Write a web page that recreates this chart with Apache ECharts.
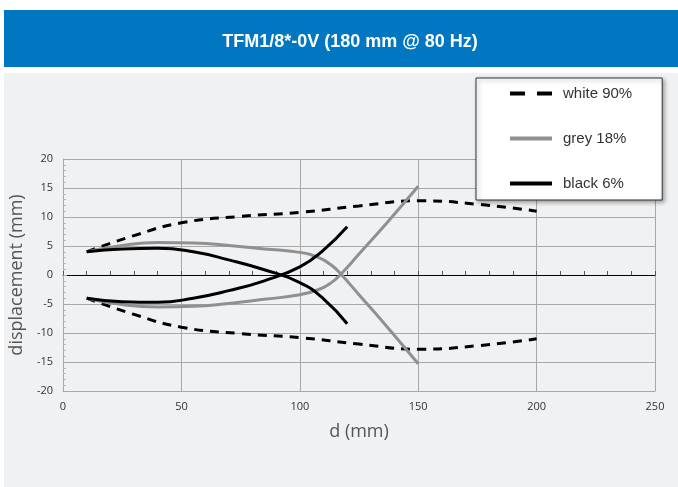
<!DOCTYPE html>
<html>
<head>
<meta charset="utf-8">
<script src="https://cdn.jsdelivr.net/npm/echarts@6/dist/echarts.min.js"></script>
<style>
html,body{margin:0;padding:0;background:#fff;}
#chart{width:678px;height:487px;}
</style>
</head>
<body>
<div id="chart"></div>
<script>
// ---- data ----
const titleText = 'TFM1/8*-0V (180 mm @ 80 Hz)';
const xName = 'd (mm)';
const yName = 'displacement (mm)';
const seriesNames = ['white 90%', 'grey 18%', 'black 6%'];

const whiteX = [10, 30, 50, 75, 100, 125, 150, 175, 200];
const whiteUpper = [4.0, 6.8, 9.0, 10.1, 10.8, 11.9, 12.8, 12.2, 11.0];
const whiteLower = [-4.0, -6.8, -9.0, -10.1, -10.8, -11.9, -12.8, -12.2, -11.0];

const greyX = [10, 25, 40, 55, 70, 85, 100, 108, 113, 117, 125, 137, 150];
const greyUpper = [4.0, 5.1, 5.6, 5.5, 5.1, 4.5, 3.9, 3.0, 1.8, 0.3, -3.4, -9.0, -15.3];
const greyLower = [-4.0, -5.1, -5.5, -5.4, -4.9, -4.2, -3.4, -2.5, -1.4, 0.0, 3.6, 9.1, 15.3];

const blackX = [10, 25, 40, 55, 70, 85, 100, 110, 120];
const blackUpper = [4.0, 4.5, 4.6, 4.0, 2.6, 0.9, -1.3, -4.1, -8.4];
const blackLower = [-4.0, -4.6, -4.7, -4.0, -2.7, -1.0, 1.4, 4.3, 8.3];

const xTicks = [0, 50, 100, 150, 200, 250];
const yTicks = [-20, -15, -10, -5, 0, 5, 10, 15, 20];

function pairs(xs, ys) { return xs.map((x, i) => [x, ys[i]]); }

const chart = echarts.init(document.getElementById('chart'));
const gridCol = '#a8a8a8';

function lineSeries(name, xs, ys, color, type) {
  return {
    name: name, type: 'line', xAxisIndex: 0, yAxisIndex: 0,
    data: pairs(xs, ys), smooth: true, symbol: 'none',
    lineStyle: { color: color, width: 3, type: type },
    itemStyle: { color: color },
    z: 3
  };
}

const option = {
  animation: false,
  backgroundColor: '#ffffff',
  graphic: [
    { type: 'rect', shape: { x: 4, y: 10, width: 674, height: 57 }, style: { fill: '#0077c0' }, z: -10 },
    { type: 'rect', shape: { x: 4, y: 73, width: 674, height: 414 }, style: { fill: '#f0f1f3' }, z: -10 }
  ],
  title: {
    text: titleText, left: 345, top: 28, textAlign: 'center',
    textStyle: { color: '#ffffff', fontSize: 18, fontWeight: 'bold', fontFamily: 'Liberation Sans' }
  },
  legend: {
    data: [
      { name: seriesNames[0], lineStyle: { type: [15, 12], width: 4 } },
      { name: seriesNames[1] },
      { name: seriesNames[2] }
    ],
    orient: 'vertical', left: 476, top: 78,
    backgroundColor: '#ffffff', borderColor: '#333333', borderWidth: 1,
    shadowBlur: 4, shadowColor: 'rgba(0,0,0,0.35)', shadowOffsetX: 2, shadowOffsetY: 2,
    padding: [8, 30, 9, 32],
    itemWidth: 42, itemHeight: 14, itemGap: 30,
    itemStyle: { opacity: 0 },
    lineStyle: { width: 4 },
    textStyle: { fontSize: 15, color: '#333333', fontFamily: 'Liberation Sans', padding: [0, 0, 0, 6] }
  },
  grid: { left: 62, right: 23, top: 159, bottom: 96, containLabel: false },
  xAxis: [
    {
      type: 'value', min: 0, max: 250, interval: 50, position: 'bottom',
      name: xName, nameLocation: 'middle', nameGap: 32,
      nameTextStyle: { fontSize: 18, color: '#555555', fontFamily: 'Open Sans' },
      axisLine: { show: true, onZero: false, lineStyle: { color: gridCol, width: 1 } },
      axisTick: { show: false },
      axisLabel: { fontSize: 11, color: '#333333', margin: 10, fontFamily: 'Open Sans',
        customValues: xTicks },
      splitLine: { show: true, lineStyle: { color: gridCol, width: 1 } }
    },
    {
      type: 'value', min: 0, max: 250, interval: 10, position: 'top',
      axisLine: { show: true, onZero: true, lineStyle: { color: '#000000', width: 1 } },
      axisTick: { show: true, length: 4, lineStyle: { color: '#555555' } },
      axisLabel: { show: false },
      splitLine: { show: false }
    }
  ],
  yAxis: {
    type: 'value', min: -20, max: 20, interval: 5,
    name: yName, nameLocation: 'middle', nameGap: 35, nameRotate: 90,
    nameTextStyle: { fontSize: 18, color: '#555555', fontFamily: 'Open Sans' },
    axisLine: { show: true, onZero: false, lineStyle: { color: gridCol, width: 1 } },
    axisTick: { show: true, inside: true, length: 4, lineStyle: { color: gridCol } },
    minorTick: { show: true, splitNumber: 5, length: 3, lineStyle: { color: '#b8b8b8' } },
    axisLabel: { fontSize: 11, color: '#333333', margin: 10, fontFamily: 'Open Sans',
      customValues: yTicks },
    splitLine: { show: true, lineStyle: { color: gridCol, width: 1 } }
  },
  series: [
    lineSeries(seriesNames[0], whiteX, whiteUpper, '#000000', [9, 7]),
    lineSeries(seriesNames[0], whiteX, whiteLower, '#000000', [9, 7]),
    lineSeries(seriesNames[1], greyX, greyUpper, '#909090', 'solid'),
    lineSeries(seriesNames[1], greyX, greyLower, '#909090', 'solid'),
    lineSeries(seriesNames[2], blackX, blackUpper, '#000000', 'solid'),
    lineSeries(seriesNames[2], blackX, blackLower, '#000000', 'solid')
  ]
};
chart.setOption(option);
</script>
</body>
</html>
